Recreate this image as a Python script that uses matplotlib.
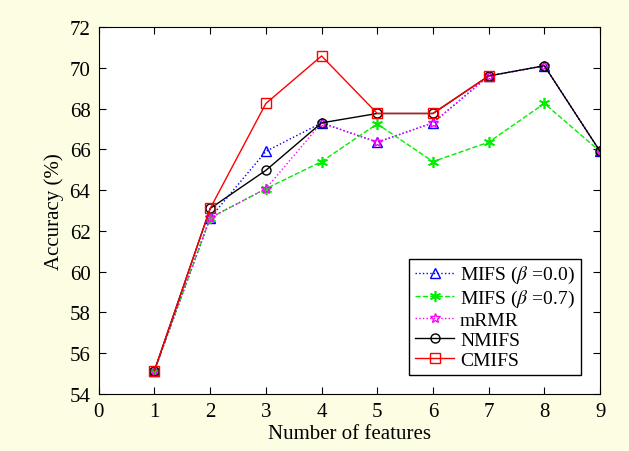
#!/usr/bin/env python3
# plot.py - accuracy vs number of selected features
import matplotlib

matplotlib.use("Agg")
import matplotlib.pyplot as plt

n_features = [1, 2, 3, 4, 5, 6, 7, 8, 9]

mifs_00 = [55.15, 62.64, 65.9, 67.3, 66.35, 67.3, 69.6, 70.1, 65.9]
mifs_07 = [55.15, 62.64, 64.07, 65.4, 67.25, 65.4, 66.35, 68.25, 65.9]
mrmr = [55.15, 62.64, 64.07, 67.3, 66.35, 67.3, 69.6, 70.1, 65.9]
nmifs = [55.15, 63.1, 64.97, 67.3, 67.76, 67.76, 69.6, 70.1, 65.9]
# CMIFS curve stops at 7 features in the source figure
cmifs_n = [1, 2, 3, 4, 5, 6, 7]
cmifs = [55.15, 63.1, 68.25, 70.58, 67.76, 67.76, 69.6]

labels = [r"MIFS ($\beta$ =0.0)", r"MIFS ($\beta$ =0.7)", "mRMR", "NMIFS", "CMIFS"]
x_ticks = list(range(0, 10))
y_ticks = list(range(54, 73, 2))

plt.rcParams["font.family"] = "Liberation Serif"
plt.rcParams["mathtext.fontset"] = "stix"

fig = plt.figure(figsize=(6.29, 4.52), dpi=100, facecolor="#fdfde3")
ax = fig.add_axes([0.157, 0.126, 0.797, 0.812])

ax.plot(n_features, mifs_00, color="blue", linestyle=":", linewidth=1,
        marker="^", markersize=7, markerfacecolor="none", markeredgecolor="blue",
        label=labels[0])
ax.plot(n_features, mifs_07, color="#00ee00", linestyle="--", linewidth=1,
        marker=(6, 2, 0), markersize=8, markeredgewidth=1.2,
        label=labels[1])
ax.plot(n_features, mrmr, color="magenta", linestyle=":", linewidth=1,
        marker="*", markersize=7, markerfacecolor="none", markeredgecolor="magenta",
        label=labels[2])
ax.plot(n_features, nmifs, color="black", linestyle="-", linewidth=1,
        marker="o", markersize=6.5, markerfacecolor="none",
        label=labels[3])
ax.plot(cmifs_n, cmifs, color="red", linestyle="-", linewidth=1,
        marker="s", markersize=7.5, markerfacecolor="none",
        label=labels[4])

ax.set_xlim(0, 9)
ax.set_ylim(54, 72)
ax.set_xticks(x_ticks)
ax.set_yticks(y_ticks)
ax.tick_params(direction="in", top=True, right=True, labelsize=15, length=5,
               pad=6)
ax.set_xlabel("Number of features", fontsize=15, labelpad=2)
ax.set_ylabel("Accuracy (%)", fontsize=15)

leg = ax.legend(loc="lower right", fontsize=14, frameon=True, fancybox=False,
                edgecolor="black", framealpha=1, handlelength=2.0,
                borderpad=0.3, labelspacing=0.12, handletextpad=0.3,
                borderaxespad=1.0)
leg.get_frame().set_linewidth(1.0)

fig.savefig("out.png", dpi=100, facecolor=fig.get_facecolor())
